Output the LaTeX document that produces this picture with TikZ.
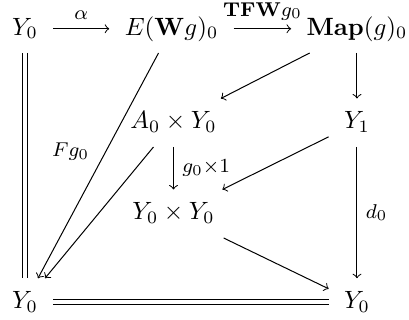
\documentclass[tikz,border=0pt]{standalone}
\usepackage{amsmath,amssymb}
\usetikzlibrary{positioning}
\begin{document}
\begin{tikzpicture}[
      x=0.4pt,y=-0.4pt,
      obj/.style={anchor=base,inner xsep=6pt,inner ysep=4.5pt,
                  text height=7.5pt,text depth=2.5pt},
      lab/.style={font=\fontsize{8}{10}\selectfont},
      arr/.style={->},
      eq/.style={double,double distance=1.6pt},
    ]
      \useasboundingbox (0,0) rectangle (409,320);
      \node[obj] (ytl)  at (25,35)     {$Y_0$};
      \node[obj] (ewg)  at (171.5,35)  {$E(\mathbf{W}g)_0$};
      \node[obj] (map)  at (357,35)    {$\mathbf{Map}(g)_0$};
      \node[obj] (axy)  at (173.5,129) {$A_0\times Y_0$};
      \node[obj] (yone) at (357,129)   {$Y_1$};
      \node[obj] (yy)   at (173.5,220) {$Y_0\times Y_0$};
      \node[obj] (ybl)  at (25,308.75) {$Y_0$};
      \node[obj] (ybr)  at (357,308.75) {$Y_0$};
      \draw[arr] (ytl)--(ewg) node[lab,midway,above] {$\alpha$};
      \draw[arr] (ewg)--(map) node[lab,midway,above] {$\mathbf{TFW}g_0$};
      \draw[eq]  (ytl)--(ybl);
      \draw[arr] (ewg)--(ybl) node[lab,pos=0.44,left=3pt] {$Fg_0$};
      \draw[arr] (map)--(axy);
      \draw[arr] (map)--(yone);
      \draw[arr] (axy)--(ybl);
      \draw[arr] (axy)--(yy) node[lab,midway,right] {$g_0{\times}1$};
      \draw[arr] (yone)--(yy);
      \draw[arr] (yone)--(ybr) node[lab,midway,right] {$d_0$};
      \draw[arr] (yy)--(ybr);
      \draw[eq]  (ybl)--(ybr);
    \end{tikzpicture}
\end{document}
